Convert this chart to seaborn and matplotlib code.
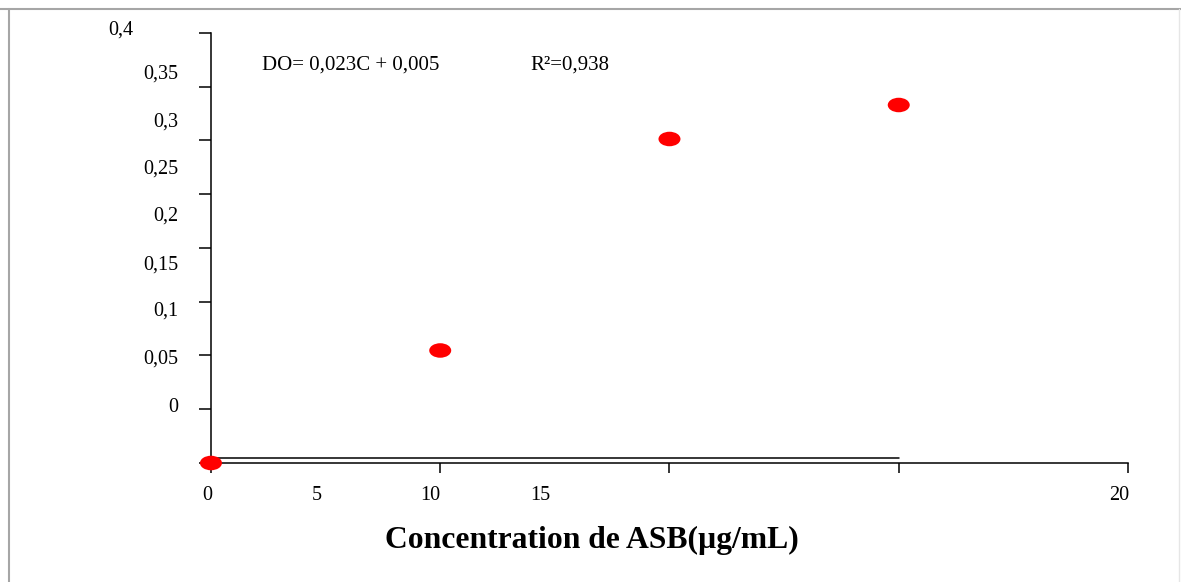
import numpy as np
import pandas as pd
import matplotlib
matplotlib.use("Agg")
import matplotlib.pyplot as plt
import seaborn as sns
from matplotlib.path import Path
from matplotlib.transforms import Affine2D
from matplotlib.lines import Line2D

# ---------------- data ----------------
concentration = [0, 5, 10, 15]
absorbance = [0.0, 0.1046, 0.3012, 0.3328]

x_tick_values = [0, 5, 10, 15, 20]
y_tick_values = [0, 0.05, 0.10, 0.15, 0.20, 0.25, 0.30, 0.35, 0.40]

x_labels = ["0", "5", "10", "15", "20"]
y_labels = ["0", "0,05", "0,1", "0,15", "0,2", "0,25", "0,3", "0,35", "0,4"]

# where the (misaligned) labels sit in the reference
x_label_pos = [-0.087, 2.305, 4.776, 7.175, 19.80]
y_label_pos = [0.0535, 0.0985, 0.1432, 0.1868, 0.2315, 0.2752, 0.3189, 0.3635, 0.4044]

equation_text = "DO= 0,023C + 0,005"
r2_text = "R²=0,938"
xlabel_text = "Concentration de ASB(µg/mL)"

baseline_level = 0.0046
baseline_end = 15

# ---------------- style ----------------
sns.set_style("white")
plt.rcParams["font.family"] = ["Liberation Serif", "DejaVu Serif"]
plt.rcParams["text.color"] = "black"

W, H = 1181, 582
fig = plt.figure(figsize=(W / 100, H / 100), dpi=100)
ax = fig.add_axes([197.2 / W, (H - 463) / H, (1128 - 197.2) / W, (463 - 11.2) / H])
ax.set_facecolor("white")

df = pd.DataFrame({"C": concentration, "DO": absorbance})

ellipse = Path.unit_circle().transformed(Affine2D().scale(1.0, 0.66))
sns.scatterplot(data=df, x="C", y="DO", ax=ax, marker=ellipse, s=251,
                color="#ff0000", edgecolor="none", linewidth=0, zorder=5,
                clip_on=False, legend=False)

ax.plot([0, baseline_end], [baseline_level, baseline_level], color="black",
        lw=1.1, zorder=3, clip_on=False)

ax.set_xlim(-0.3, 20)
ax.set_ylim(0, 0.42)
ax.set_ylabel("")

for s in ["top", "right"]:
    ax.spines[s].set_visible(False)
ax.spines["left"].set_position(("data", 0))
ax.spines["left"].set_bounds(0, 0.4)
ax.spines["bottom"].set_bounds(0, 20)
for s in ["left", "bottom"]:
    ax.spines[s].set_color("black")
    ax.spines[s].set_linewidth(1.1)
    ax.spines[s].set_zorder(2)

ax.set_xticks(x_tick_values)
ax.set_xticklabels([])
ax.set_yticks(y_tick_values)
ax.set_yticklabels([])
ax.tick_params(axis="both", which="both", bottom=True, left=True, top=False, right=False)
ax.tick_params(axis="x", which="major", direction="out", length=7.2, width=1.1, color="black")
ax.tick_params(axis="y", which="major", direction="out", length=8.6, width=1.1, color="black")

ax.set_xticks(x_label_pos, minor=True)
ax.set_xticklabels(x_labels, minor=True)
ax.set_yticks(y_label_pos, minor=True)
ax.set_yticklabels(y_labels, minor=True)
ax.tick_params(axis="x", which="minor", length=0, pad=16.5, labelsize=14.5, labelcolor="black")
ax.tick_params(axis="y", which="minor", length=0, pad=23.5, labelsize=14.5, labelcolor="black")
# the top label sits further left in the reference
ax.yaxis.get_minor_ticks()[-1].set_pad(56)

ax.text(1.106, 0.370, equation_text, fontsize=15, va="center", ha="left", color="black")
ax.text(6.957, 0.370, r2_text, fontsize=15, va="center", ha="left", color="black")

ax.set_xlabel(xlabel_text, fontsize=22.8, fontweight="bold", color="black")
ax.xaxis.set_label_coords((592 - 197.2) / (1128 - 197.2), -(526 - 463) / (463 - 11.2))

# outer gray frame
fc = "#a6a6a6"
fig.add_artist(Line2D([0, 1], [1 - 8.5 / H, 1 - 8.5 / H], transform=fig.transFigure, color=fc, lw=1.5))
fig.add_artist(Line2D([8.5 / W, 8.5 / W], [0, 1 - 8.5 / H], transform=fig.transFigure, color=fc, lw=1.5))
fig.add_artist(Line2D([1178.5 / W, 1178.5 / W], [0, 1 - 8.5 / H], transform=fig.transFigure, color="#e6e6e6", lw=1.0))

fig.savefig("out.png", dpi=100, facecolor="white")
